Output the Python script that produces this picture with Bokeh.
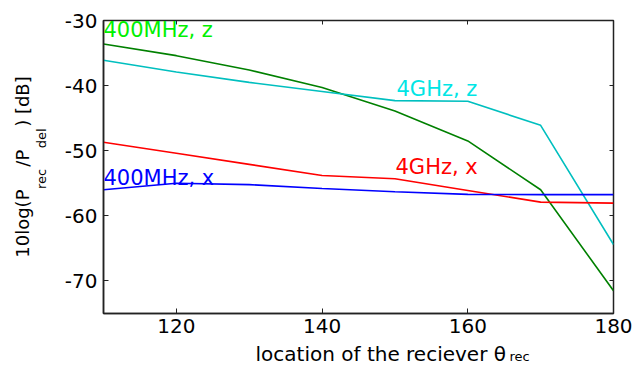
from bokeh.plotting import figure
from bokeh.models import Range1d, LinearAxis, Label, FixedTicker, Title
from bokeh.embed import file_html
from bokeh.resources import INLINE

# ---- data ----
theta = [110, 120, 130, 140, 150, 160, 170, 180]
mhz400_z = [-33.6, -35.4, -37.6, -40.3, -43.9, -48.5, -56.0, -71.5]
ghz4_z = [-36.1, -37.9, -39.5, -40.9, -42.3, -42.4, -46.1, -64.4]
ghz4_x = [-48.7, -50.4, -52.1, -53.8, -54.3, -56.1, -57.9, -58.05]
mhz400_x = [-56.0, -55.0, -55.2, -55.8, -56.3, -56.7, -56.75, -56.75]
x_ticks = [120, 140, 160, 180]
y_ticks = [-30, -40, -50, -60, -70]
x_range = (110, 180)
y_range = (-75, -30)

# ---- layout constants (page pixels) ----
FL, FT, FW, FH = 103, 20, 510, 293
FONT = "DejaVu Sans"
NB = "\u00a0"

def dx(px):
    return x_range[0] + (px - FL) * (x_range[1] - x_range[0]) / FW

def dy(py):
    return y_range[1] - (py - FT) * (y_range[1] - y_range[0]) / FH

p = figure(frame_width=FW, frame_height=FH, output_backend="svg", toolbar_location=None,
           x_range=Range1d(*x_range), y_range=Range1d(*y_range),
           min_border_left=FL, min_border_top=FT, min_border_right=22,
           min_border_bottom=52)
p.grid.visible = False
p.outline_line_color = "#222222"
p.outline_line_width = 1.5
p.background_fill_color = "white"
p.border_fill_color = "white"

for ax, ticks in ((p.xaxis[0], x_ticks), (p.yaxis[0], y_ticks)):
    ax.ticker = FixedTicker(ticks=ticks)
    ax.major_label_overrides = {t: str(t) for t in ticks}
    ax.major_tick_in = 5
    ax.major_tick_out = 0
    ax.minor_tick_line_color = None
    ax.axis_line_color = "#222222"
    ax.axis_line_width = 1.5
    ax.major_tick_line_color = "#222222"
    ax.major_label_text_font = FONT
    ax.major_label_text_font_size = "20px"
    ax.major_label_text_color = "black"
    ax.axis_label_text_font = FONT
    ax.axis_label_text_font_style = "normal"
    ax.axis_label_text_color = "black"
p.xaxis[0].major_label_standoff = 5
p.yaxis[0].major_label_standoff = 6

# x axis label (main part)
p.xaxis[0].axis_label = NB * 7 + "location of the reciever \u03b8"
p.xaxis[0].axis_label_text_font_size = "20px"
p.xaxis[0].axis_label_standoff = 6

# y axis label: subscripts on the axis, main text as an outer title
p.yaxis[0].axis_label = NB * 4 + "rec" + NB * 5 + "del"
p.yaxis[0].axis_label_text_font_size = "13px"
p.yaxis[0].axis_label_standoff = 13

top = LinearAxis(ticker=FixedTicker(ticks=x_ticks), major_label_text_font_size="0px",
                 major_label_text_color=None,
                 major_label_standoff=0, major_tick_in=4, major_tick_out=0,
                 minor_tick_line_color=None, axis_line_color=None,
                 major_tick_line_color="#222222")
right = LinearAxis(ticker=FixedTicker(ticks=y_ticks), major_label_text_font_size="0px",
                   major_label_text_color=None,
                   major_label_standoff=0, major_tick_in=4, major_tick_out=0,
                   minor_tick_line_color=None, axis_line_color=None,
                   major_tick_line_color="#222222")
p.add_layout(top, "above")
p.add_layout(right, "right")

ytitle = Title(text="10log(P" + NB * 4 + "/P" + NB * 4 + ") [dB]", align="center",
               text_font=FONT, text_font_size="18px", text_font_style="normal",
               text_color="black", standoff=-4)
p.add_layout(ytitle, "left")

p.line(theta, mhz400_z, line_color="#008000", line_width=1.6)
p.line(theta, ghz4_z, line_color="#00BFBF", line_width=1.6)
p.line(theta, ghz4_x, line_color="#FF0000", line_width=1.6)
p.line(theta, mhz400_x, line_color="#0000FF", line_width=1.6)

# series annotations
for txt, col, px, py in (("400MHz, z", "#00F000", 103, 29),
                         ("4GHz, z", "#00E5E5", 396, 88),
                         ("4GHz, x", "#FF0000", 395, 166),
                         ("400MHz, x", "#0000FF", 103, 177)):
    p.add_layout(Label(x=dx(px), y=dy(py), text=txt, text_color=col, text_font=FONT,
                       text_font_size="21px", text_align="left", text_baseline="alphabetic"))

# subscript of the x axis label (placed in a side panel so it is not clipped)
p.add_layout(Label(x=dx(509), y=dy(356), text="rec", text_font=FONT,
                   text_font_size="13px", text_color="black", text_align="left",
                   text_baseline="alphabetic"), "above")

open("out.html", "w").write(file_html(p, INLINE))
